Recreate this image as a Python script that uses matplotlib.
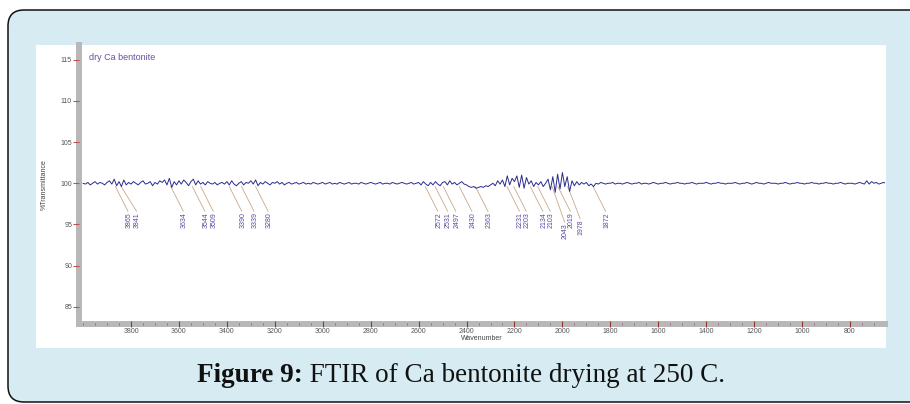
"""
FTIR spectrum of dry Ca bentonite (250 C), redrawn in the style of the
instrument printout sitting on a light-blue figure panel with caption.
"""
import numpy as np
import matplotlib; matplotlib.use("Agg"); import matplotlib.pyplot as plt
from matplotlib.patches import FancyBboxPatch, Rectangle
from matplotlib.ticker import MultipleLocator

# spectrum, every 10 cm-1 from 4000 down to 650
WN_START = 4000
WN_STEP = 10
transmittance = [
    100.0, 99.9, 100.1, 99.8, 100.0, 100.2, 99.9, 100.1, 100.0, 99.8,     # 4000
    100.1, 100.3, 99.9, 100.5, 99.7, 100.2, 99.6, 100.4, 99.8, 100.1,     # 3900
    99.9, 100.2, 100.0, 99.8, 100.1, 100.3, 99.9, 100.0, 100.2, 99.7,     # 3800
    100.1, 99.9, 100.3, 100.1, 100.4, 99.8, 100.6, 99.5, 100.2, 99.8,     # 3700
    100.3, 99.9, 100.4, 100.1, 99.7, 100.2, 100.5, 99.8, 100.3, 99.9,     # 3600
    100.1, 99.8, 100.2, 100.0, 99.9, 100.1, 99.8, 100.0, 100.1, 99.9,     # 3500
    100.2, 99.8, 100.3, 99.9, 99.7, 100.0, 100.2, 99.8, 100.1, 100.0,     # 3400
    100.3, 99.9, 100.4, 99.7, 100.1, 99.9, 100.2, 100.0, 99.8, 100.1,     # 3300
    100.0, 100.2, 99.9, 100.1, 99.8, 100.0, 100.1, 99.9, 100.0, 100.1,    # 3200
    99.9, 100.0, 100.1, 99.9, 100.0, 99.9, 100.1, 100.0, 99.9, 100.0,     # 3100
    100.1, 99.9, 100.0, 100.1, 99.9, 100.0, 99.9, 100.1, 100.0, 99.9,     # 3000
    100.0, 100.1, 99.9, 100.0, 100.0, 99.9, 100.1, 100.0, 99.9, 100.0,    # 2900
    100.1, 100.0, 99.9, 100.0, 100.1, 99.9, 100.0, 100.0, 99.9, 100.1,    # 2800
    100.0, 99.9, 100.0, 100.1, 100.0, 99.9, 100.0, 100.1, 99.9, 100.0,    # 2700
    100.1, 99.8, 100.2, 99.9, 99.7, 100.1, 99.8, 100.2, 99.9, 99.7,       # 2600
    100.1, 100.2, 99.8, 100.3, 99.9, 100.1, 99.8, 100.0, 100.2, 99.9,     # 2500
    99.8, 99.6, 99.5, 99.6, 99.4, 99.5, 99.6, 99.5, 99.7, 99.6,           # 2400
    99.8, 100.0, 99.7, 100.3, 99.9, 100.4, 99.6, 100.9, 99.8, 100.6,      # 2300
    100.2, 100.9, 99.5, 101.0, 99.4, 100.7, 99.9, 100.3, 99.6, 100.1,     # 2200
    99.8, 100.2, 99.6, 100.0, 100.5, 99.2, 100.8, 98.9, 101.1, 99.3,      # 2100
    101.3, 99.6, 100.8, 99.0, 100.3, 99.7, 100.2, 99.8, 100.1, 99.9,      # 2000
    100.1, 99.7, 99.9, 99.6, 100.0, 99.9, 100.1, 100.0, 99.9, 100.0,      # 1900
    100.0, 100.1, 99.9, 100.0, 100.0, 99.9, 100.0, 100.1, 100.0, 99.9,    # 1800
    100.0, 100.0, 100.1, 99.9, 100.0, 100.0, 99.9, 100.0, 100.1, 100.0,   # 1700
    99.9, 100.0, 100.0, 100.1, 100.0, 99.9, 100.0, 100.0, 100.1, 100.0,   # 1600
    100.0, 99.9, 100.0, 100.0, 100.1, 100.0, 99.9, 100.0, 100.0, 100.0,   # 1500
    100.1, 100.0, 99.9, 100.0, 100.0, 100.1, 100.0, 100.0, 99.9, 100.0,   # 1400
    100.0, 100.0, 100.1, 100.0, 99.9, 100.0, 100.0, 100.1, 100.0, 99.9,   # 1300
    100.0, 100.1, 100.0, 100.0, 99.9, 100.0, 100.1, 100.0, 100.0, 100.0,  # 1200
    99.9, 100.0, 100.0, 100.1, 100.0, 99.9, 100.0, 100.0, 100.1, 100.0,   # 1100
    100.0, 99.9, 100.0, 100.0, 100.1, 100.0, 100.0, 99.9, 100.0, 100.0,   # 1000
    100.1, 100.0, 100.0, 99.9, 100.0, 100.0, 100.1, 100.0, 99.9, 100.0,   # 900
    100.0, 100.0, 99.9, 100.0, 100.1, 100.0, 99.9, 100.3, 99.9, 100.2,    # 800
    100.0, 100.1, 99.9, 100.0, 100.1, 100.0,                              # 700
]

# picked peaks printed under the trace
peaks = [3865, 3841, 3634, 3544, 3509, 3390, 3339, 3280,
         2572, 2531, 2497, 2430, 2363, 2231, 2203, 2134, 2103,
         2043, 2019, 1978, 1872]
# the software pushes a few crowded labels lower / sideways
label_drop = {2043: 1.3, 1978: 0.9}
label_nudge = {3841: -12}

y_ticks = [85, 90, 95, 100, 105, 110, 115]
x_ticks = list(range(800, 3801, 200))

title = "dry Ca bentonite"
caption_bold = "Figure 9:"
caption_rest = " FTIR of Ca bentonite drying at 250 C."

wn = WN_START - WN_STEP * np.arange(len(transmittance))

W, H, DPI = 910, 404, 100
fig = plt.figure(figsize=(W / DPI, H / DPI), dpi=DPI)
fig.patch.set_facecolor("white")

# light-blue rounded panel (right edge runs off the canvas)
panel = FancyBboxPatch((0.08, 0.02), 9.5, 3.92,
                       boxstyle="round,pad=0,rounding_size=0.16",
                       transform=fig.dpi_scale_trans, facecolor="#d7ecf2",
                       edgecolor="#111111", linewidth=1.1, zorder=0)
fig.patches.append(panel)
# white instrument printout
fig.patches.append(Rectangle((0.36, 0.56), 8.50, 3.03, transform=fig.dpi_scale_trans,
                             facecolor="white", edgecolor="none", zorder=0.5))

ax = fig.add_axes([79 / W, 1 - 324 / H, (885 - 79) / W, (324 - 45) / H])
ax.set_zorder(2)
ax.set_facecolor("none")

ax.plot(wn, transmittance, color="#2b2b8f", lw=0.7, zorder=3)

label_font = dict(family="Liberation Sans", fontsize=5, color="#5b4a9c")
for p in peaks:
    drop = label_drop.get(p, 0)
    lx = p - 56 + label_nudge.get(p, 0)
    ax.plot([p, lx + 4], [99.6, 96.6 - drop], color="#c9a88c", lw=0.6, zorder=2)
    ax.text(lx, 96.5 - drop, str(p), rotation=90, ha="center", va="top",
            **label_font)

ax.set_xlim(4017, 654)
ax.set_ylim(82.9, 116.8)

for side in ["top", "right"]:
    ax.spines[side].set_visible(False)
for side in ["left", "bottom"]:
    sp = ax.spines[side]
    sp.set_color("#b8b8b8")
    sp.set_linewidth(4.3)
    sp.set_capstyle("projecting")
    sp.set_zorder(1)

ax.set_yticks(y_ticks)
ax.set_xticks(x_ticks)
ax.xaxis.set_minor_locator(MultipleLocator(50))
ax.tick_params(axis="y", direction="out", length=4.5, width=0.8, color="#c0504d",
               labelsize=5, labelcolor="#555555", pad=0.5)
ax.tick_params(axis="x", which="major", direction="inout", length=4, width=0.8,
               color="#a03030", labelsize=5, labelcolor="#555555", pad=1)
ax.tick_params(axis="x", which="minor", direction="inout", length=1.5, width=0.6,
               color="#a06060")
for lab in ax.get_xticklabels() + ax.get_yticklabels():
    lab.set_family("Liberation Sans")
ax.xaxis.set_zorder(2.6)
ax.yaxis.set_zorder(2.6)

ax.set_xlabel("Wavenumber", family="Liberation Sans", fontsize=5, color="#444444",
              labelpad=0)
ax.set_ylabel("%Transmittance", family="Liberation Sans", fontsize=5, color="#444444",
              labelpad=9)
ax.text(0.013, 0.955, title, transform=ax.transAxes, ha="left", va="center",
        family="Liberation Sans", fontsize=6.5, color="#6a4f9e")

# caption on the panel
cap_y = 1 - 376 / H
t1 = fig.text(197 / W, cap_y, caption_bold, ha="left", va="center",
              family="Liberation Serif", fontsize=19.5, fontweight="bold", color="#111111")
fig.canvas.draw()
bb = t1.get_window_extent()
fig.text(bb.x1 / W, cap_y, caption_rest, ha="left", va="center",
         family="Liberation Serif", fontsize=19.5, color="#111111")

fig.savefig("out.png", dpi=DPI)
